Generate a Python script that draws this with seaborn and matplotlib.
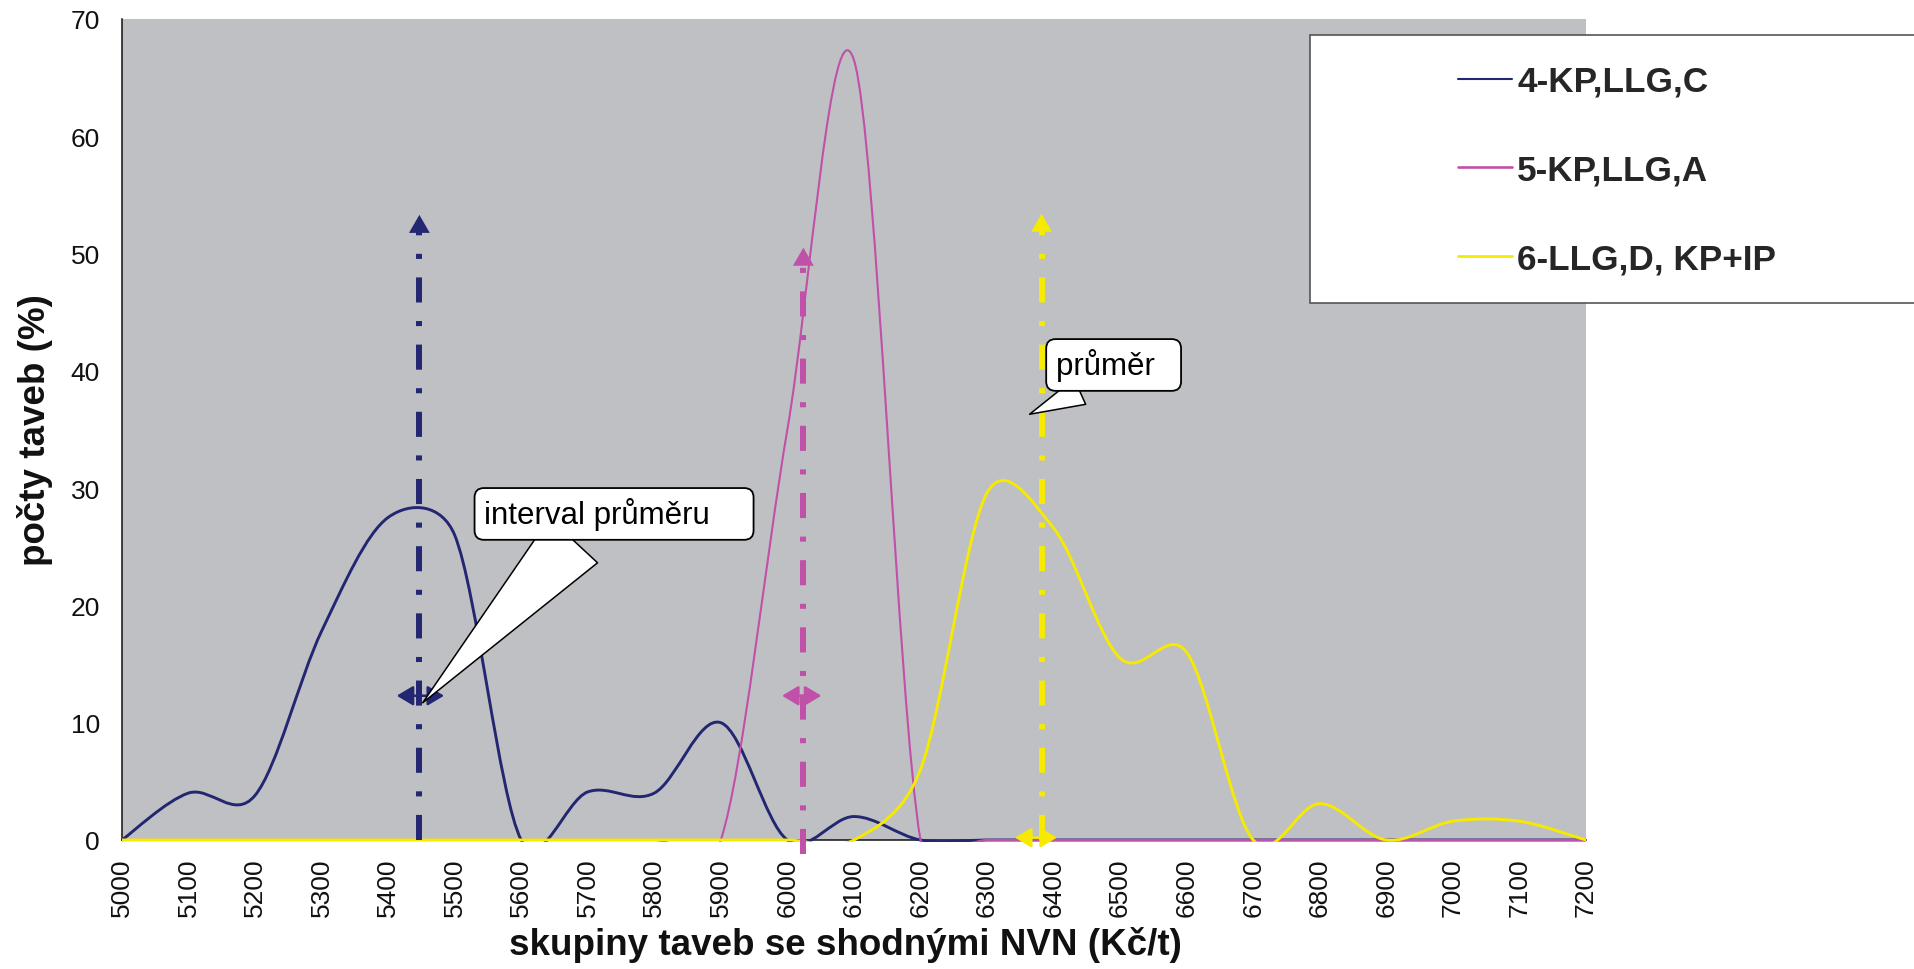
import numpy as np
import seaborn as sns
import matplotlib.pyplot as plt
from matplotlib.path import Path
from matplotlib.patches import PathPatch, Rectangle
from matplotlib.lines import Line2D

# skupiny taveb se shodnymi NVN (Kc/t)
nvn = list(range(5000, 7201, 100))

# pocty taveb (%) for each group
kp_llg_c = [0, 4.0, 3.8, 17.8, 27.5, 26.0, 0, 4.1, 4.0, 10.0, 0, 2.0, 0,
            0, 0, 0, 0, 0, 0, 0, 0, 0, 0]
kp_llg_a = [0, 0, 0, 0, 0, 0, 0, 0, 0, 0, 35.0, 66.5, 0,
            0, 0, 0, 0, 0, 0, 0, 0, 0, 0]
llg_d_kpip = [0, 0, 0, 0, 0, 0, 0, 0, 0, 0, 0, 0, 6.0,
              29.6, 26.6, 15.5, 16.0, 0, 3.1, 0, 1.6, 1.6, 0]

series_names = ["4-KP,LLG,C", "5-KP,LLG,A", "6-LLG,D, KP+IP"]
series_colors = ["#232670", "#c050a8", "#f5ea00"]
series_lw = [2.1, 1.5, 2.1]

# prumer (vertical arrows) and interval prumeru (double arrows)
mean_x = [5447, 6024, 6382]
mean_top = [53.3, 50.5, 53.4]
mean_bottom = [0, -1.2, 0]
interval_lo = [5413, 5992, 6342]
interval_hi = [5484, 6051, 6405]
interval_y = [12.3, 12.3, 0.2]

# callouts
callout_texts = ["interval průměru    ", "průměr  "]
callout_tip_x = [5452, 6364]
callout_tip_y = [11.7, 36.3]
callout_text_x = [5544, 6403]
callout_text_y = [27.8, 40.5]
callout_relpos = [(0.38, 0.0), (0.4, 0.0)]
callout_tail = [2.1, 0.9]


def excel_smooth_path(xs, ys, to_px):
    # cubic bezier through the points, like excel's "smoothed line"
    # (control arms limited to half the segment length on screen)
    p = np.column_stack([xs, ys]).astype(float)
    s = to_px(p)
    n = len(p)
    verts = [p[0]]
    codes = [Path.MOVETO]
    for i in range(n - 1):
        i0, i3 = max(i - 1, 0), min(i + 2, n - 1)
        d02 = np.hypot(*(s[i + 1] - s[i0]))
        d12 = np.hypot(*(s[i + 1] - s[i]))
        d13 = np.hypot(*(s[i3] - s[i]))
        f1 = f2 = 1 / 6
        if d02 > 0 and d02 / 6 >= d12 / 2:
            f1 = d12 / 2 / d02
        if d13 > 0 and d13 / 6 >= d12 / 2:
            f2 = d12 / 2 / d13
        verts += [p[i] + (p[i + 1] - p[i0]) * f1,
                  p[i + 1] - (p[i3] - p[i]) * f2,
                  p[i + 1]]
        codes += [Path.CURVE4] * 3
    return Path(verts, codes)


sns.set_theme(style="white")
plt.rcParams['font.family'] = ['Liberation Sans', 'DejaVu Sans']

fig = plt.figure(figsize=(19.14, 9.7), dpi=100)
ax = fig.add_axes([0.0637, 0.1330, 0.7649, 0.8464])
ax.set_facecolor("#bfc0c4")

ax.set_xlim(5000, 7200)
ax.set_ylim(0, 70)

clip = Rectangle((0, -0.003), 1, 1.003, transform=ax.transAxes)
for ys, c, lw in zip([kp_llg_c, kp_llg_a, llg_d_kpip], series_colors, series_lw):
    patch = PathPatch(excel_smooth_path(nvn, ys, ax.transData.transform),
                      fill=False, edgecolor=c, lw=lw, joinstyle='round',
                      capstyle='round', zorder=2.7)
    ax.add_patch(patch)
    patch.set_clip_path(clip)

# mean lines with arrow heads
for x, top, bot, c in zip(mean_x, mean_top, mean_bottom, series_colors):
    ax.plot([x, x], [bot, top - 1.0], color=c, lw=4.3,
            linestyle=(0, (4.2, 3.1, 0.85, 3.1)), clip_on=False, zorder=3)
    ax.annotate('', xy=(x, top), xytext=(0, -13), textcoords='offset points',
                arrowprops=dict(arrowstyle='-|>,head_length=13,head_width=7.5',
                                mutation_scale=1, lw=0, fc=c, ec=c,
                                shrinkA=0, shrinkB=0), zorder=3)

for lo, hi, y, c in zip(interval_lo, interval_hi, interval_y, series_colors):
    ax.annotate('', xy=(hi, y), xytext=(lo, y),
                arrowprops=dict(arrowstyle='<|-|>,head_length=10,head_width=6',
                                mutation_scale=1, lw=1.8, color=c,
                                shrinkA=0, shrinkB=0), zorder=3)

for txt, tx, ty, px, py, rp, tw in zip(callout_texts, callout_tip_x, callout_tip_y,
                                       callout_text_x, callout_text_y,
                                       callout_relpos, callout_tail):
    ax.annotate(txt, xy=(tx, ty), xytext=(px, py), ha='left', va='center',
                fontsize=22.5, color='black', zorder=5,
                bbox=dict(boxstyle='round,pad=0.3,rounding_size=0.3',
                          fc='white', ec='black', lw=1.3),
                arrowprops=dict(arrowstyle='wedge,tail_width=%s,shrink_factor=0.5' % tw,
                                fc='white', ec='black', lw=1.1, relpos=rp,
                                shrinkA=0, shrinkB=0))

ax.set_xticks(nvn)
ax.set_xticklabels([str(v) for v in nvn], rotation=90)
ax.set_yticks(range(0, 71, 10))
ax.tick_params(axis='both', direction='inout', length=11.5, width=1.0,
               color='#555555', labelsize=19, labelcolor='#111111')
ax.tick_params(axis='x', pad=7)
ax.tick_params(axis='y', pad=10)

for side in ['top', 'right']:
    ax.spines[side].set_visible(False)
for side in ['left', 'bottom']:
    ax.spines[side].set_color('#111111')
    ax.spines[side].set_linewidth(1.1)

ax.set_xlabel("skupiny taveb se shodnými NVN (Kč/t)", fontsize=26.5,
              fontweight='bold', color='#111111')
ax.set_ylabel("počty taveb (%)", fontsize=26.5, fontweight='bold', color='#111111')
ax.xaxis.set_label_coords(0.4945, -0.105)
ax.yaxis.set_label_coords(-0.047, 0.5006)

# legend box sits over the plot area and runs off the right edge
fig.add_artist(Rectangle((1310 / 1914, 1 - 304 / 970), 0.4, (304 - 36) / 970,
                         transform=fig.transFigure, fc='white', ec='#555555',
                         lw=1.2, zorder=1))
handles = [Line2D([], [], color=c, lw=lw) for c, lw in
           zip(series_colors, [1.5, 1.9, 2.0])]
fig.legend(handles, series_names, loc='center left',
           bbox_to_anchor=(1458 / 1914, 1 - 171 / 970), frameon=False,
           prop=dict(weight='bold', size=25.3), handlelength=1.54,
           handletextpad=0.14, labelspacing=1.58, borderpad=0, borderaxespad=0)

fig.savefig("out.png", dpi=100)
